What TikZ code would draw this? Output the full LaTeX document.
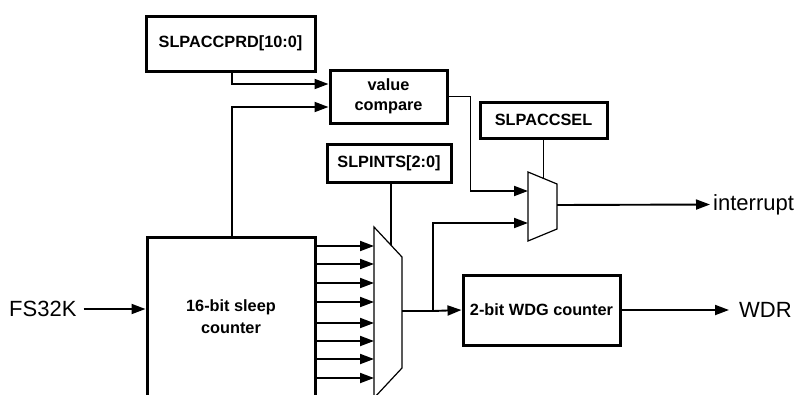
\documentclass[tikz,border=0pt]{standalone}
\usepackage{fontspec}
\setmainfont{Liberation Sans}
\usetikzlibrary{arrows.meta}
\begin{document}
\begin{tikzpicture}[x=1pt,y=-1pt,
 box/.style={draw, line width=3pt, font=\fontsize{16.3}{20}\selectfont\bfseries, align=center, inner sep=0pt},
 wire/.style={line width=1.9pt},
 arr/.style={wire, -{Triangle[length=14pt,width=10pt]}},
 muxs/.style={draw, line width=1.2pt, line join=miter},
 ctl/.style={line width=1.7pt},
 lbl/.style={font=\fontsize{22}{24}\selectfont, inner sep=0pt}]
\useasboundingbox (0,0) rectangle (800,394);
\clip (0,0) rectangle (800,394);
% boxes
\node[box, minimum width=169pt, minimum height=55pt] (prd) at (230.5,43.5) {SLPACCPRD[10:0]};
\node[box, minimum width=117pt, minimum height=53pt] (cmp) at (388.5,96.5) {value\\compare};
\node[box, minimum width=124pt, minimum height=38pt] (ints) at (389,163) {SLPINTS[2:0]};
\node[box, minimum width=127pt, minimum height=36pt] (sel) at (543.5,120) {SLPACCSEL};
\node[box, minimum width=157pt, minimum height=70pt] (wdg) at (541.5,310) {2-bit WDG counter};
\node[box, minimum width=168pt, minimum height=160pt, font=\fontsize{16.3}{22}\selectfont\bfseries] (cnt) at (231,317) {16-bit sleep\\counter};
% labels
\node[lbl, anchor=west] (fs) at (9,309) {FS32K};
\node[lbl, anchor=west] (wdr) at (739,310) {WDR};
\node[lbl, anchor=west] (int) at (713,204.5) {interrupt};
% muxes
\draw[muxs] (374,227) -- (402,257) -- (402,368) -- (374,398) -- cycle;
\draw[muxs] (528,172) -- (557,184) -- (557,229) -- (528,241) -- cycle;
\coordinate (m1o) at (402,311);
\coordinate (m1s) at (391,245);
\coordinate (m2a) at (528,191);
\coordinate (m2b) at (528,223);
\coordinate (m2o) at (557,205);
\coordinate (m2s) at (543.5,178.5);
\coordinate (br) at (433,311);
% connectors
\draw[arr] ([xshift=1.5pt]prd.south) |- ([yshift=12.5pt]cmp.west);
\draw[arr] ([xshift=1pt]cnt.north) |- ([yshift=-10.5pt]cmp.west);
\draw[arr] (cmp.east) -- ++(22,0) |- (m2a);
\draw[arr] (br) |- (m2b);
\draw[wire] (m1o) -- (br);
\draw[arr] (br) -- (wdg.west);
\draw[ctl] (ints.south -| m1s) -- (m1s);
\draw[ctl] (sel.south) -- (m2s);
\draw[arr] (m2o) -- ([xshift=-3pt]int.west);
\draw[arr] (wdg.east) -- ([xshift=-10pt]wdr.west);
\draw[arr] ([xshift=7pt]fs.east) -- (fs.east -| cnt.west);
\foreach \y [count=\i] in {246,264,283,302,323,341,359,378} {
  \coordinate (in\i) at (374,\y);
  \draw[arr] (cnt.east |- in\i) -- (in\i);
}
\end{tikzpicture}
\end{document}
